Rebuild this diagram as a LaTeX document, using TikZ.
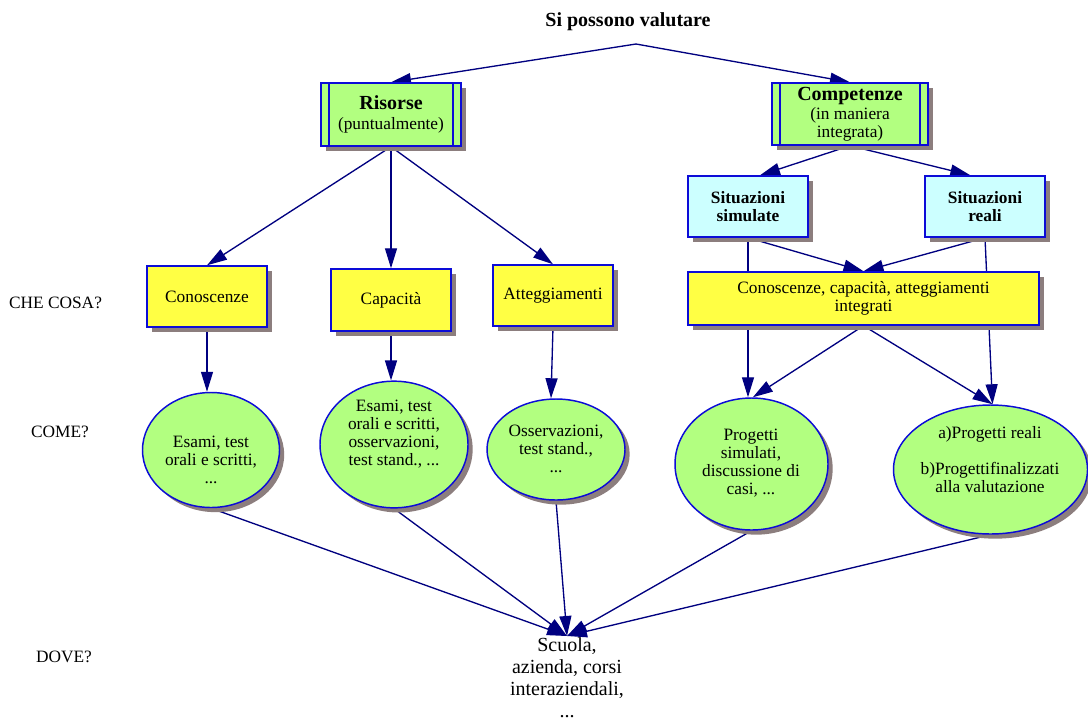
\documentclass[tikz,border=0pt]{standalone}
\usepackage{fontspec}
\setmainfont{Liberation Serif}
\usetikzlibrary{arrows.meta,shadows,backgrounds,shapes.geometric}

\definecolor{edgecol}{RGB}{0,0,128}
\definecolor{bordercol}{RGB}{12,12,215}
\definecolor{greenfill}{RGB}{178,255,128}
\definecolor{yellowfill}{RGB}{255,255,68}
\definecolor{cyanfill}{RGB}{204,255,255}
\definecolor{shadowcol}{RGB}{140,126,126}

\tikzset{
  txt/.style={font=\fontsize{13pt}{13.5pt}\selectfont, align=center, inner sep=0pt},
  shape base/.style={draw=bordercol, line width=1.1pt, align=center, inner sep=0pt,
    font=\fontsize{13pt}{13.5pt}\selectfont,
    drop shadow={shadow xshift=3.5pt, shadow yshift=-3.5pt, fill=shadowcol, opacity=1}},
  greenbox/.style={shape base, rectangle, fill=greenfill},
  yellowbox/.style={shape base, rectangle, fill=yellowfill},
  cyanbox/.style={shape base, rectangle, fill=cyanfill,
    font=\fontsize{13pt}{13.5pt}\selectfont\bfseries},
  oval/.style={shape base, ellipse, fill=greenfill},
  heading/.style={font=\fontsize{15pt}{16pt}\selectfont\bfseries, inner sep=0pt},
  sidelabel/.style={font=\fontsize{13pt}{13.5pt}\selectfont, inner sep=0pt},
  conn/.style={draw=edgecol, line width=1pt,
    -{Triangle[length=15pt,width=9pt]}},
}

\begin{document}
\begin{tikzpicture}[x=0.75pt,y=-0.75pt]
\useasboundingbox (0,0) rectangle (1088,722);

% title and split point
\node[heading] (title) at (628,22) {Si possono valutare};
\coordinate (split) at (636,44);

% top level: resources and competences
\node[greenbox, minimum width=105pt, minimum height=47.25pt] (ris) at (391,114.5)
  {{\fontsize{15pt}{16pt}\selectfont\bfseries Risorse}\\[1pt](puntualmente)};
\node[greenbox, minimum width=117pt, minimum height=46.5pt] (comp) at (850,114)
  {{\fontsize{15pt}{16pt}\selectfont\bfseries Competenze}\\[1pt](in maniera\\integrata)};
\foreach \n in {ris,comp}{
  \draw[bordercol, line width=1.1pt] ([xshift=6.5pt]\n.north west) -- ([xshift=6.5pt]\n.south west);
  \draw[bordercol, line width=1.1pt] ([xshift=-6.5pt]\n.north east) -- ([xshift=-6.5pt]\n.south east);
}

% situations
\node[cyanbox, minimum width=90pt, minimum height=45.75pt] (sim) at (748,206.5) {Situazioni\\simulate};
\node[cyanbox, minimum width=90pt, minimum height=45.75pt] (rea) at (985,206.5) {Situazioni\\reali};

% what
\node[yellowbox, minimum width=90pt, minimum height=45.75pt] (con) at (207,296.5) {Conoscenze};
\node[yellowbox, minimum width=90pt, minimum height=46.5pt] (cap) at (391,300) {Capacità};
\node[yellowbox, minimum width=90pt, minimum height=45.75pt] (att) at (553,295.5) {Atteggiamenti};
\node[yellowbox, minimum width=263.25pt, minimum height=39.75pt] (integ) at (863.5,298.5)
  {Conoscenze, capacità, atteggiamenti\\integrati};

% how
\node[oval, minimum width=102.75pt, minimum height=86.25pt] (e1) at (211,450) {};
\node[oval, minimum width=111pt, minimum height=95pt] (e2) at (394,444.5) {};
\node[oval, minimum width=103.5pt, minimum height=75.75pt] (e3) at (556,449.5) {};
\node[oval, minimum width=114.75pt, minimum height=99pt] (e4) at (751.5,464) {};
\node[oval, minimum width=145.5pt, minimum height=96.75pt] (e5) at (990.5,469.5) {};

\node[txt] (e1t) at (211,460) {Esami, test\\orali e scritti,\\...};
\node[txt] (e2t) at (394,434) {Esami, test\\orali e scritti,\\osservazioni,\\test stand., ...};
\node[txt] (e3t) at (556,449) {Osservazioni,\\test stand.,\\...};
\node[txt] (e4t) at (751,463) {Progetti\\simulati,\\discussione di\\casi, ...};
\node[txt] (e5t) at (990,460) {a)Progetti reali\\[13.5pt]b)Progettifinalizzati\\alla valutazione};

% where
\node[font=\fontsize{15pt}{16.5pt}\selectfont, align=center, anchor=north, inner sep=1pt]
  (scuola) at (567,636) {Scuola,\\azienda, corsi\\interaziendali,\\...};

% side questions
\node[sidelabel] (q1) at (55.5,303) {CHE COSA?};
\node[sidelabel] (q2) at (60,432) {COME?};
\node[sidelabel] (q3) at (64,657) {DOVE?};

\begin{pgfonlayer}{background}
  \fill[white] (0,0) rectangle (1088,722);
  \draw[conn] (split) -- (ris.north);
  \draw[conn] (split) -- (comp.north);

  \draw[conn] (ris.south) -- (con.north);
  \draw[conn] (ris.south) -- (cap.north);
  \draw[conn] (ris.south) -- (att.north);

  \draw[conn] (comp.south) -- ([xshift=9pt]sim.north);
  \draw[conn] (comp.south) -- ([xshift=-11pt]rea.north);

  \draw[conn] (sim.south) -- (integ.north);
  \draw[conn] (rea.south) -- (integ.north);
  \draw[conn] (sim.south) -- (sim.south |- e4.north);
  \draw[conn] (rea.south) -- ([xshift=1.5pt]e5.north);
  \draw[conn] (integ.south) -- ([xshift=1pt]e4.north);
  \draw[conn] (integ.south) -- ([xshift=1.5pt]e5.north);

  \draw[conn] (con.south) -- (con.south |- e1.north);
  \draw[conn] (cap.south) -- (cap.south |- e2.north);
  \draw[conn] (att.south) -- ([xshift=-1.5pt]att.south |- e3.north);

  \draw[conn] (e1.south) -- (scuola.north);
  \draw[conn] (e2.south) -- (scuola.north);
  \draw[conn] (e3.south) -- (scuola.north);
  \draw[conn] (e4.south) -- (scuola.north);
  \draw[conn] (e5.south) -- (scuola.north);
\end{pgfonlayer}
\end{tikzpicture}
\end{document}
